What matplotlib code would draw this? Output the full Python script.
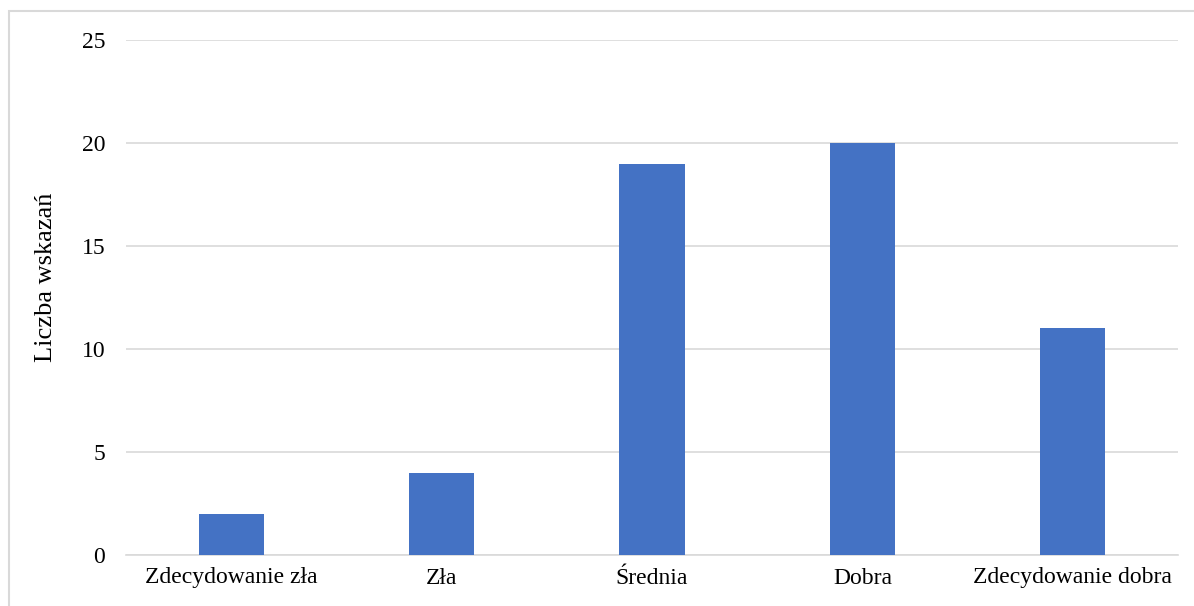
import matplotlib
matplotlib.use("Agg")
import matplotlib.pyplot as plt
from matplotlib.patches import Rectangle

categories = ["Zdecydowanie zła", "Zła", "Średnia", "Dobra", "Zdecydowanie dobra"]
counts = [2, 4, 19, 20, 11]
y_ticks = [0, 5, 10, 15, 20, 25]

plt.rcParams['font.family'] = ['Liberation Serif', 'DejaVu Serif']

fig = plt.figure(figsize=(11.94, 6.06), dpi=100)
ax = fig.add_axes([126 / 1194, 51 / 606, 1052 / 1194, 515 / 606])

# outer chart border (cropped at right and bottom in the original)
fig.patches.append(Rectangle((9 / 1194, -0.1), 1.2, 0.1 + (606 - 11) / 606,
                             transform=fig.transFigure, fill=False,
                             edgecolor='#d9d9d9', linewidth=1.5))

x = range(len(categories))
ax.bar(x, counts, width=0.31, color='#4472c4', zorder=3)

ax.set_xlim(-0.5, len(categories) - 0.5)
ax.set_ylim(0, 25)
ax.set_yticks(y_ticks)
ax.set_xticks(list(x))
ax.set_xticklabels(categories)
ax.yaxis.grid(True, color='#d9d9d9', linewidth=1.2, zorder=0)
ax.tick_params(axis='both', length=0, labelsize=17)
ax.tick_params(axis='y', pad=15)
ax.tick_params(axis='x', pad=9)
for side in ['top', 'right', 'left']:
    ax.spines[side].set_visible(False)
ax.spines['bottom'].set_color('#d9d9d9')
ax.spines['bottom'].set_linewidth(1.2)

fig.text(46 / 1194, 1 - 277 / 606, 'Liczba wskazań', rotation=90,
         ha='center', va='center', fontsize=19)

fig.savefig('out.png', dpi=100)
